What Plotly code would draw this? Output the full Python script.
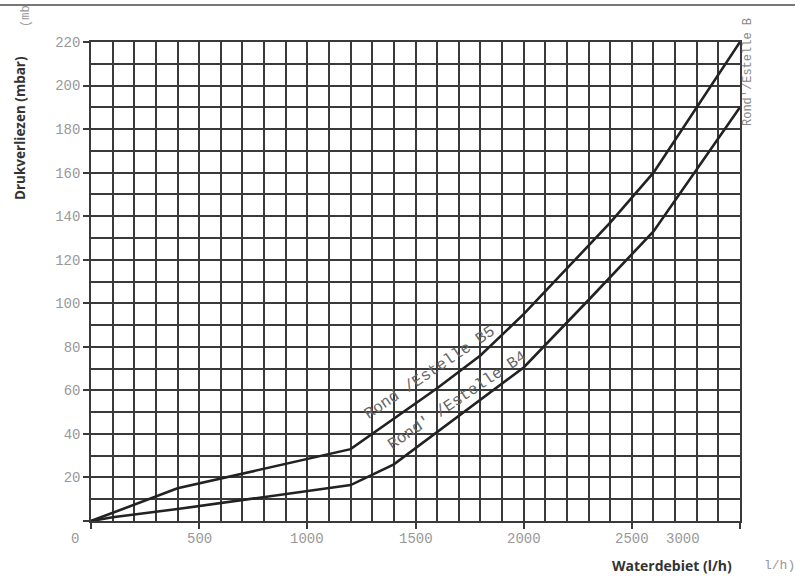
import plotly.graph_objects as go

# ---- data ----
upper_x = [0, 400, 1200, 1600, 1800, 2000, 2200, 2400, 2600, 3000]
upper_y = [0, 15, 33, 61, 76, 95, 116, 137, 160, 220]
lower_x = [0, 100, 400, 800, 1200, 1400, 2000, 2300, 2600, 3000]
lower_y = [0, 1.7, 5.5, 11, 16.5, 26, 70.5, 101.5, 133, 190]

x_ticks = [0, 500, 1000, 1500, 2000, 2500, 3000]
x_tick_labels = ["0", "500", "1000", "1500", "2000", "2500", "3000"]
y_ticks = [0, 20, 40, 60, 80, 100, 120, 140, 160, 180, 200, 220]
y_tick_labels = ["", "20", "40", "60", "80", "100", "120", "140", "160", "180", "200", "220"]

upper_label = "Rond /Estelle B5"
lower_label = "Rond' /Estelle B4"
side_label = "Rond'/Estelle B"
x_title = "Waterdebiet (l/h)"
y_title = "Drukverliezen (mbar)"

# ---- layout geometry (pixels) ----
W, H = 796, 576
L, R, T, B = 91, 740, 42, 521
pw, ph = R - L, B - T


def px(xp):
    return (xp - L) / pw


def py(yp):
    return (B - yp) / ph


GRID = "#3a3a3a"
MONO = "Liberation Mono"
SANS = "Open Sans"

fig = go.Figure()
fig.add_trace(go.Scatter(x=upper_x, y=upper_y, mode="lines",
                         line=dict(color="#222222", width=2.6), showlegend=False))
fig.add_trace(go.Scatter(x=lower_x, y=lower_y, mode="lines",
                         line=dict(color="#222222", width=2.6), showlegend=False))

ann = []
# x tick labels (as drawn in the reference, some shifted)
x_shift = {0: -16, 3000: -57}
for v, t in zip(x_ticks, x_tick_labels):
    ann.append(dict(x=v, y=0, xref="x", yref="y", text=t, showarrow=False,
                    xanchor="center", yanchor="middle",
                    yshift=-18, xshift=x_shift.get(v, 0),
                    font=dict(family=MONO, size=14, color="#999999")))

# curve labels
ann.append(dict(x=1567, y=68, xref="x", yref="y", text=upper_label, showarrow=False,
                xanchor="center", yanchor="middle",
                textangle=-34, font=dict(family=MONO, size=16, color="#666666")))
ann.append(dict(x=1692, y=55, xref="x", yref="y", text=lower_label, showarrow=False,
                xanchor="center", yanchor="middle",
                textangle=-34, font=dict(family=MONO, size=16, color="#666666")))


def paper_text(xp, yp, text, font, angle=0):
    ann.append(dict(x=px(xp), y=py(yp), xref="paper", yref="paper", text=text,
                    showarrow=False, textangle=angle, xanchor="center", yanchor="middle",
                    font=font))


paper_text(748, 72, side_label, dict(family=MONO, size=12, color="#888888"), -90)
paper_text(26, 16, "(mb", dict(family=MONO, size=12, color="#999999"), -90)
paper_text(20, 128, "<b>" + y_title + "</b>", dict(family=SANS, size=13.5, color="#333333"), -90)
paper_text(672, 565, "<b>" + x_title + "</b>", dict(family=SANS, size=14, color="#333333"))
paper_text(779, 565, "l/h)", dict(family=MONO, size=13, color="#999999"))

shapes = [dict(type="line", xref="paper", yref="paper",
               x0=px(0), x1=px(795), y0=py(5), y1=py(5),
               line=dict(color="#777777", width=2))]

fig.update_layout(
    width=W, height=H,
    margin=dict(l=L, r=W - R, t=T, b=H - B, pad=0),
    paper_bgcolor="white", plot_bgcolor="white",
    annotations=ann, shapes=shapes,
    xaxis=dict(range=[0, 3000], tickvals=x_ticks, showticklabels=False,
               ticks="outside", ticklen=6, tickwidth=1.5, tickcolor=GRID,
               showgrid=True, gridcolor=GRID, gridwidth=1.5,
               minor=dict(dtick=100, tick0=0, showgrid=True, gridcolor=GRID, gridwidth=1.5),
               showline=True, mirror=True, linecolor=GRID, linewidth=1.5,
               zeroline=False, fixedrange=True),
    yaxis=dict(range=[0, 220], tickvals=y_ticks, ticktext=y_tick_labels,
               ticks="outside", ticklen=6, tickwidth=1.5, tickcolor=GRID,
               tickfont=dict(family=MONO, size=14, color="#999999"),
               showgrid=True, gridcolor=GRID, gridwidth=1.5,
               minor=dict(dtick=10, tick0=0, showgrid=True, gridcolor=GRID, gridwidth=1.5),
               showline=True, mirror=True, linecolor=GRID, linewidth=1.5,
               zeroline=False, fixedrange=True),
)

fig.write_html("out.html")
